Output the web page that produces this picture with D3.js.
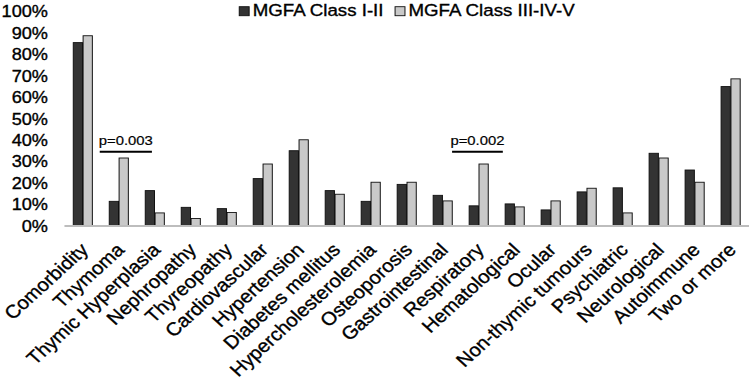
<!DOCTYPE html>
<html>
<head>
<meta charset="utf-8">
<script src="https://cdn.jsdelivr.net/npm/d3@7"></script>
<style>
  body { margin: 0; background: #fff; }
  svg text { font-family: "Liberation Sans", Arial, Helvetica, sans-serif; fill: #000; stroke: #000; stroke-width: 0.35px; }
</style>
</head>
<body>
<div id="chart"></div>
<script>
// data
let categories = ["Comorbidity", "Thymoma", "Thymic Hyperplasia", "Nephropathy", "Thyreopathy",
    "Cardiovascular", "Hypertension", "Diabetes mellitus", "Hypercholesterolemia", "Osteoporosis",
    "Gastrointestinal", "Respiratory", "Hematological", "Ocular", "Non-thymic tumours",
    "Psychiatric", "Neurological", "Autoimmune", "Two or more"];
let seriesNames = ["MGFA Class I-II", "MGFA Class III-IV-V"];
let classI_II = [85.5, 11.5, 16.5, 8.7, 8.1, 22.1, 35.1, 16.5, 11.5, 19.4, 14.3, 9.4, 10.3, 7.5, 15.9, 17.8, 33.9, 26.1, 65.0];
let classIII_V = [88.7, 31.7, 6.1, 3.5, 6.3, 28.9, 40.2, 14.8, 20.4, 20.4, 11.7, 28.9, 8.9, 11.7, 17.6, 6.1, 31.7, 20.4, 68.6];
let yTicks = [0, 10, 20, 30, 40, 50, 60, 70, 80, 90, 100];
// significance brackets: start/end as category index, height in %
let pLabels = ["p=0.003", "p=0.002"];
let pFrom = [0.47, 10.26];
let pTo = [1.92, 11.67];
let pLevel = [34.6, 34.6];

let svgWidth = 749;
let svgHeight = 379;
let stretch = 1.1; // the picture is a bit wider than tall
let vbWidth = svgWidth / stretch;

let svg = d3.select("#chart")
    .append("svg")
    .attr("width", svgWidth)
    .attr("height", svgHeight)
    .attr("viewBox", `0 0 ${vbWidth} ${svgHeight}`)
    .attr("preserveAspectRatio", "none");

let x0 = d3.scaleBand()
    .domain(categories)
    .range([58.6, vbWidth])
    .paddingInner(0.47)
    .paddingOuter(0.245);

let x1 = d3.scaleBand()
    .domain(seriesNames)
    .range([0, x0.bandwidth()])
    .paddingInner(0.06);

let xIdx = d3.scaleLinear()
    .domain([0, categories.length - 1])
    .range([x0(categories[0]) + x0.bandwidth() / 2, x0(categories[categories.length - 1]) + x0.bandwidth() / 2]);

let y = d3.scaleLinear()
    .domain([0, 100])
    .range([226, 11.5]);

let colors = ["#333333", "#c9c9c9"];

let rows = categories.map((c, i) => ({ cat: c, vals: [classI_II[i], classIII_V[i]] }));

// y axis labels
let yAxis = d3.axisLeft(y).tickValues(yTicks).tickFormat(d => d + "%").tickSize(0).tickPadding(0);
let yG = svg.append("g")
    .attr("transform", "translate(43.6,0)")
    .call(yAxis);
yG.select(".domain").remove();
yG.selectAll("text")
    .attr("font-size", "16.5px")
    .attr("font-family", "Liberation Sans, Arial, sans-serif")
    .attr("fill", "#000");

// bars
let groups = svg.selectAll(".grp")
    .data(rows)
    .enter()
    .append("g")
    .attr("class", "grp")
    .attr("transform", d => `translate(${x0(d.cat)},0)`);

groups.selectAll("rect")
    .data(d => d.vals.map((v, k) => ({ s: seriesNames[k], v: v, k: k })))
    .enter()
    .append("rect")
    .attr("x", d => x1(d.s))
    .attr("y", d => y(d.v))
    .attr("width", x1.bandwidth())
    .attr("height", d => y(0) - y(d.v))
    .attr("fill", d => colors[d.k])
    .attr("stroke", "#111")
    .attr("stroke-width", 0.9);

// x axis line
let xAxis = d3.axisBottom(x0).tickSize(0).tickFormat("");
let xG = svg.append("g")
    .attr("transform", `translate(0,${y(0)})`)
    .call(xAxis);
xG.select(".domain")
    .attr("d", `M58.6,0H${vbWidth}`)
    .attr("stroke", "#bdbdbd")
    .attr("stroke-width", 2);

// rotated category labels
svg.selectAll(".xlab")
    .data(categories)
    .enter()
    .append("text")
    .attr("class", "xlab")
    .attr("transform", d => `translate(${x0(d) + x0.bandwidth() / 2 + 6},251) rotate(-45)`)
    .attr("text-anchor", "end")
    .attr("font-size", "18.5px")
    .text(d => d);

// significance brackets
pLabels.forEach((lab, i) => {
    let a = xIdx(pFrom[i]);
    let b = xIdx(pTo[i]);
    svg.append("line")
        .attr("x1", a).attr("x2", b)
        .attr("y1", y(pLevel[i])).attr("y2", y(pLevel[i]))
        .attr("stroke", "#000")
        .attr("stroke-width", 2);
    svg.append("text")
        .attr("x", (a + b) / 2)
        .attr("y", y(pLevel[i]) - 6.3)
        .attr("text-anchor", "middle")
        .attr("font-size", "13.5px")
        .style("stroke-width", "0.2px")
        .text(lab);
});

// legend
let legend = svg.append("g").attr("transform", "translate(217.5,0)");
let lx = 0;
seriesNames.forEach((s, k) => {
    legend.append("rect")
        .attr("x", lx).attr("y", 6.7)
        .attr("width", 9).attr("height", 9)
        .attr("fill", colors[k])
        .attr("stroke", "#111")
        .attr("stroke-width", 0.9);
    let t = legend.append("text")
        .attr("x", lx + 12.2)
        .attr("y", 15.7)
        .attr("font-size", "17px")
        .text(s);
    lx += 12.2 + t.node().getComputedTextLength() + 10.5;
});
</script>
</body>
</html>
